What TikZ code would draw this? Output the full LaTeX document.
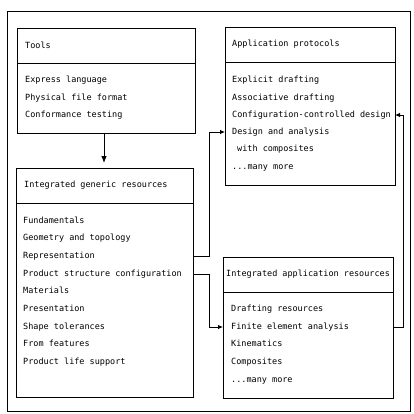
\documentclass[tikz,border=0pt]{standalone}
\usepackage{fontspec}
\setmonofont{DejaVu Sans Mono}
\usetikzlibrary{arrows.meta}
\begin{document}
\begin{tikzpicture}[x=1pt,y=-1pt,
  box/.style={draw,line width=0.8pt,anchor=north west,inner sep=0,outer sep=0},
  txt/.style={anchor=west,inner sep=0,font=\ttfamily\fontsize{8.5}{10}\selectfont,text height=5pt,text depth=0pt},
  arr/.style={line width=0.8pt,-{Latex[length=5pt,width=4.5pt]}},
  ln/.style={line width=0.8pt}]
\useasboundingbox (0,0) rectangle (413,414);
\draw[ln] (7,11) rectangle (410,411);
% Tools
\node[box,minimum width=178pt,minimum height=35pt] (toolsh) at (17,28) {};
\node[box,minimum width=178pt,minimum height=70pt] (toolsb) at (17,63) {};
\node[txt] (t0) at (25,46) {Tools};
\node[txt] (t1) at (25,80) {Express language};
\node[txt] (t2) at (25,98) {Physical file format};
\node[txt] (t3) at (25,115) {Conformance testing};
% Integrated generic resources
\node[box,minimum width=177pt,minimum height=35pt] (genh) at (16,168) {};
\node[box,minimum width=177pt,minimum height=194pt] (genb) at (16,203) {};
\node[txt] (g0) at (24,185) {Integrated generic resources};
\node[txt] (g1) at (23,221) {Fundamentals};
\node[txt] (g2) at (23,238) {Geometry and topology};
\node[txt] (rep) at (23,256) {Representation};
\node[txt] (psc) at (23,274) {Product structure configuration};
\node[txt] (g5) at (23,291) {Materials};
\node[txt] (g6) at (23,309) {Presentation};
\node[txt] (g7) at (23,327) {Shape tolerances};
\node[txt] (g8) at (23,344) {From features};
\node[txt] (g9) at (23,362) {Product life support};
% Application protocols
\node[box,minimum width=170pt,minimum height=35pt] (aph) at (225,27) {};
\node[box,minimum width=170pt,minimum height=123pt] (apb) at (225,62) {};
\node[txt] (a0) at (232,44) {Application protocols};
\node[txt] (a1) at (232,80) {Explicit drafting};
\node[txt] (a2) at (232,98) {Associative drafting};
\node[txt] (ccd) at (232,115) {Configuration-controlled design};
\node[txt] (des) at (232,132) {Design and analysis};
\node[txt] (a5) at (237,149) {with composites};
\node[txt] (a6) at (232,167) {...many more};
% Integrated application resources
\node[box,minimum width=170pt,minimum height=35pt] (iarh) at (223,257) {};
\node[box,minimum width=170pt,minimum height=106pt] (iarb) at (223,292) {};
\node[txt] (i0) at (226,274) {Integrated application resources};
\node[txt] (i1) at (231,309) {Drafting resources};
\node[txt] (fea) at (231,327) {Finite element analysis};
\node[txt] (i3) at (231,344) {Kinematics};
\node[txt] (i4) at (231,362) {Composites};
\node[txt] (i5) at (231,380) {...many more};
% connectors
\coordinate (jl) at (209,0);
\coordinate (jr) at (403,0);
\draw[line width=0.8pt,-{Latex[length=7pt,width=5.5pt]},shorten >=5pt] (toolsb.south -| 104,0) -- (genh.north -| 104,0);
\draw[arr] (rep -| genb.east) -- (rep -| jl) |- (des -| apb.west);
\draw[arr] (psc -| genb.east) -- (psc -| jl) |- (fea -| iarb.west);
\draw[arr] (fea -| iarb.east) -- (fea -| jr) |- (ccd -| apb.east);
\end{tikzpicture}
\end{document}
